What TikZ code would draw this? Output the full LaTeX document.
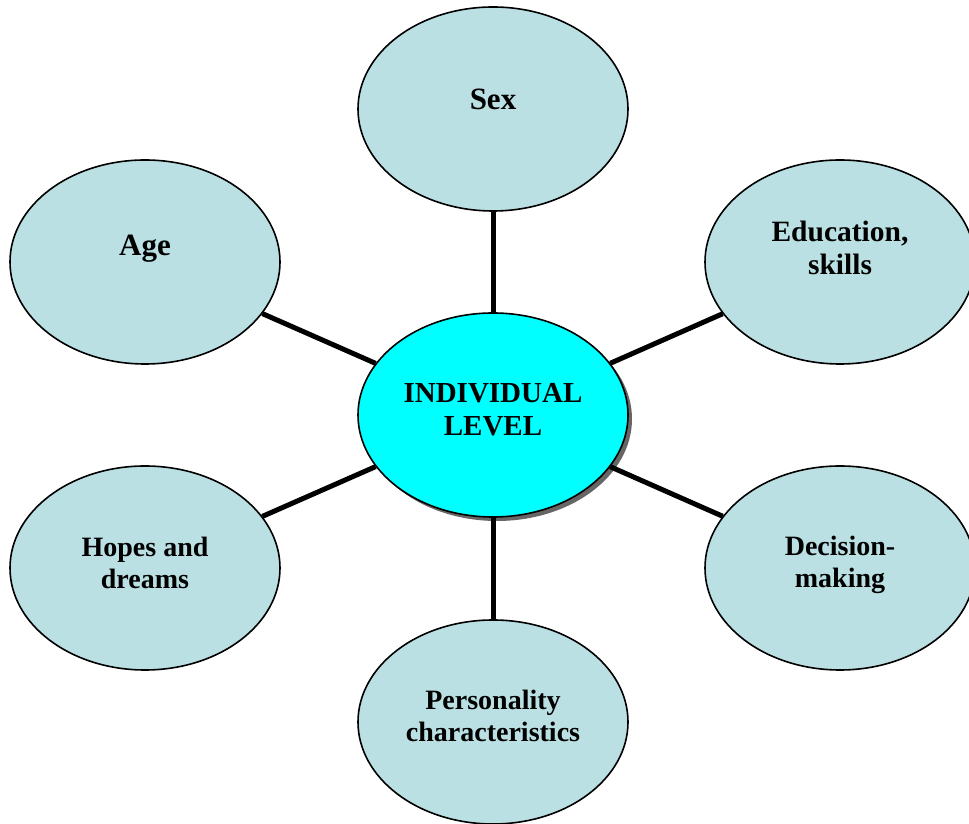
\documentclass[tikz,border=0pt]{standalone}
\usepackage{fontspec}
\setmainfont{Liberation Serif}
\usetikzlibrary{shapes.geometric,shadows}
\definecolor{outerfill}{HTML}{BAE0E3}
\definecolor{centerfill}{HTML}{00FFFF}
\begin{document}
\begin{tikzpicture}[x=1pt,y=1pt,
  bubble/.style={ellipse,draw=black,line width=1.6pt,fill=outerfill,minimum width=270pt,minimum height=204pt,inner sep=0pt},
  hub/.style={bubble,fill=centerfill,drop shadow={shadow xshift=4pt,shadow yshift=-4pt,fill=gray!80!black,opacity=1}},
  lbl/.style={font=\bfseries\fontsize{28}{32}\selectfont,align=center,inner sep=0pt},
  biglbl/.style={font=\bfseries\fontsize{31}{33}\selectfont,align=center,inner sep=0pt},
  spoke/.style={line width=5pt,black}]
\useasboundingbox (0,0) rectangle (969,824);
\node[bubble] (sex)  at (493,715) {};
\node[bubble] (age)  at (145,562) {};
\node[bubble] (edu)  at (840,562) {};
\node[bubble] (hope) at (145,256) {};
\node[bubble] (dec)  at (840,256) {};
\node[bubble] (pers) at (493,102) {};
\node[hub]    (ctr)  at (493,409) {};
\foreach \n in {sex,age,edu,hope,dec,pers} \draw[spoke] (ctr) -- (\n);
\node[biglbl,anchor=base] (sext) at (493,714) {Sex};
\node[biglbl,anchor=base] (aget) at (145,568) {Age};
\node[lbl,font=\bfseries\fontsize{29.5}{33}\selectfont] (edut) at (840,576) {Education,\\skills};
\node[lbl,font=\bfseries\fontsize{29}{33}\selectfont] (ctrt) at (493,414) {INDIVIDUAL\\LEVEL};
\node[lbl] (hopet) at (145,261) {Hopes and\\dreams};
\node[lbl] (dect) at (840,259) {Decision-\\making};
\node[lbl] (perst) at (493,108) {Personality\\characteristics};
\end{tikzpicture}
\end{document}
